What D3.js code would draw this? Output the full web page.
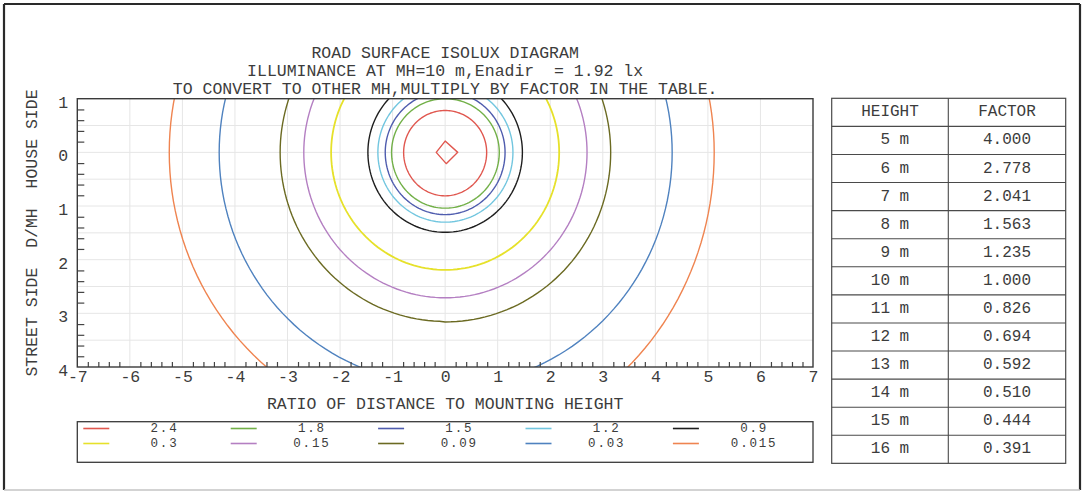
<!DOCTYPE html>
<html><head><meta charset="utf-8">
<script src="https://cdn.jsdelivr.net/npm/d3@7"></script>
<style>
html,body{margin:0;padding:0;background:#fff;}
svg text{font-family:"Liberation Mono","DejaVu Sans Mono",monospace;fill:#3c3c3c;}
</style></head><body>
<svg id="chart" width="1082" height="493"></svg>
<script>
// ---------- data ----------
const titleLines = [
  "ROAD SURFACE ISOLUX DIAGRAM",
  "ILLUMINANCE AT MH=10 m,Enadir  = 1.92 lx",
  "TO CONVERT TO OTHER MH,MULTIPLY BY FACTOR IN THE TABLE."
];
const xAxisTitle = "RATIO OF DISTANCE TO MOUNTING HEIGHT";
const yAxisTitle = "STREET SIDE  D/MH  HOUSE SIDE";
const xTickValues = [-7,-6,-5,-4,-3,-2,-1,0,1,2,3,4,5,6,7];
const yTickValues = [-1,0,1,2,3,4];
const yTickLabels = ["1","0","1","2","3","4"];

const levels      = ["2.4","1.8","1.5","1.2","0.9","0.3","0.15","0.09","0.03","0.015"];
const levelColors = ["#e0574f","#72b048","#4f5cae","#72c6df","#1e1e1e","#e6e12a","#b47fc2","#6b6a22","#4f82bf","#ef8450"];
// contour extents (in D/MH units)
const rLeft      = [0.79,1.02,1.14,1.28,1.47,2.17,2.69,3.14,4.30,5.25];
const rRight     = [0.79,1.03,1.14,1.29,1.47,2.17,2.70,3.15,4.32,5.12];
const rUp        = [0.78,1.00,1.13,1.27,1.46,2.15,2.67,3.12,4.28,5.25];
const rDownLeft  = [0.81,1.04,1.16,1.30,1.49,2.19,2.71,3.15,4.32,5.25];
const rDownRight = [0.81,1.04,1.16,1.30,1.49,2.19,2.71,3.16,4.36,5.45];
// inner closed 2.4 lx contour around the nadir
const innerRingX = [0.00, 0.24, 0.02,-0.17];
const innerRingY = [-0.21, 0.00, 0.21, 0.00];

const heights = ["5 m","6 m","7 m","8 m","9 m","10 m","11 m","12 m","13 m","14 m","15 m","16 m"];
const factors = ["4.000","2.778","2.041","1.563","1.235","1.000","0.826","0.694","0.592","0.510","0.444","0.391"];
const tableHeader = ["HEIGHT","FACTOR"];

// ---------- layout ----------
const svg = d3.select("#chart");
const P = {l:77.3, r:813, t:98.7, b:367};
const x = d3.scaleLinear().domain([-7,7]).range([P.l,P.r]);
const y = d3.scaleLinear().domain([-1,4]).range([P.t,P.b]);
const FS = 16.5;

// figure frame
svg.append("line").attr("x1",4).attr("x2",1080).attr("y1",4).attr("y2",4).attr("stroke","#2a2a2a").attr("stroke-width",2.2);
svg.append("line").attr("x1",4).attr("x2",4).attr("y1",4).attr("y2",490).attr("stroke","#2a2a2a").attr("stroke-width",2.2);
svg.append("line").attr("x1",1080).attr("x2",1080).attr("y1",4).attr("y2",490).attr("stroke","#2a2a2a").attr("stroke-width",2.2);
svg.append("line").attr("x1",4).attr("x2",1080).attr("y1",490).attr("y2",490).attr("stroke","#c4c4c4").attr("stroke-width",1.5);

// titles
svg.append("g").selectAll("text").data(titleLines).join("text")
  .attr("x",(P.l+P.r)/2).attr("y",(d,i)=>53+i*18.4)
  .attr("text-anchor","middle").attr("dominant-baseline","central")
  .style("white-space","pre").attr("font-size",FS).text(d=>d);

// grid
const grid = svg.append("g");
grid.selectAll(".gx").data(d3.range(-6,7,1)).join("line")
  .attr("x1",d=>x(d)).attr("x2",d=>x(d)).attr("y1",P.t).attr("y2",P.b)
  .attr("stroke","#e6e6e6").attr("stroke-width",1);
grid.selectAll(".gy").data(d3.range(-0.5,4,0.5)).join("line")
  .attr("y1",d=>y(d)).attr("y2",d=>y(d)).attr("x1",P.l).attr("x2",P.r)
  .attr("stroke","#e6e6e6").attr("stroke-width",1);

// contours
svg.append("defs").append("clipPath").attr("id","plotclip").append("rect")
  .attr("x",P.l).attr("y",P.t).attr("width",P.r-P.l).attr("height",P.b-P.t);
const thetas = d3.range(0,360,2).map(d=>d*Math.PI/180);
function ring(i){
  return thetas.map(t=>{
    const c=Math.cos(t), s=Math.sin(t);
    const rx = c>=0 ? rRight[i] : rLeft[i];
    const ry = s>=0 ? (c>=0 ? rDownRight[i] : rDownLeft[i]) : rUp[i];
    return [c*rx, s*ry];
  });
}
const line = d3.line().x(d=>x(d[0])).y(d=>y(d[1])).curve(d3.curveLinearClosed);
const cg = svg.append("g").attr("clip-path","url(#plotclip)");
cg.selectAll("path.iso").data(levels).join("path").attr("class","iso")
  .attr("d",(d,i)=>line(ring(i)))
  .attr("fill","none").attr("stroke",(d,i)=>levelColors[i])
  .attr("stroke-width",(d,i)=> d==="0.3" ? 1.8 : 1.4);
cg.append("path")
  .attr("d",line(innerRingX.map((v,i)=>[v,innerRingY[i]])))
  .attr("fill","none").attr("stroke",levelColors[0]).attr("stroke-width",1.4)
  .attr("stroke-linejoin","round");

// minor ticks (0.2 steps, integers omitted)
const isInt = v => Math.abs(v-Math.round(v))<1e-6;
const xMinor = d3.range(-7,7.0001,0.2).map(v=>+v.toFixed(2)).filter(v=>!isInt(v));
const yMinor = d3.range(-1,4.0001,0.2).map(v=>+v.toFixed(2)).filter(v=>!isInt(v));
const xm = svg.append("g").attr("transform",`translate(0,${P.b})`)
  .call(d3.axisBottom(x).tickValues(xMinor).tickSize(-5).tickFormat(""));
const ym = svg.append("g").attr("transform",`translate(${P.l},0)`)
  .call(d3.axisLeft(y).tickValues(yMinor).tickSize(-7).tickFormat(""));
[xm,ym].forEach(g=>{g.select(".domain").remove(); g.selectAll("line").attr("stroke","#444").attr("stroke-width",1.2);});

// tick labels
const xl = svg.append("g").attr("transform",`translate(0,${P.b})`)
  .call(d3.axisBottom(x).tickValues(xTickValues).tickSize(0).tickFormat(d=>String(d)));
xl.select(".domain").remove();
xl.selectAll("text").attr("dy",null).attr("y",10).attr("dominant-baseline","central")
  .attr("font-size",FS).attr("font-family",null).attr("fill",null);
const yl = svg.append("g").attr("transform",`translate(${P.l},0)`)
  .call(d3.axisLeft(y).tickValues(yTickValues).tickSize(0).tickFormat((d,i)=>yTickLabels[i]));
yl.select(".domain").remove();
yl.selectAll("text").attr("dy",null).attr("x",-14).attr("y",4).attr("text-anchor","middle")
  .attr("dominant-baseline","central").attr("font-size",FS).attr("font-family",null).attr("fill",null);
[xl,yl].forEach(g=>g.attr("font-family",null).attr("font-size",null));

// plot frame
svg.append("rect").attr("x",P.l).attr("y",P.t).attr("width",P.r-P.l).attr("height",P.b-P.t)
  .attr("fill","none").attr("stroke","#3a3a3a").attr("stroke-width",1.4);

// axis titles
svg.append("text").attr("x",(P.l+P.r)/2).attr("y",404).attr("text-anchor","middle")
  .attr("dominant-baseline","central").attr("font-size",FS).text(xAxisTitle);
svg.append("text").attr("transform","translate(32.5,233) rotate(-90)")
  .attr("text-anchor","middle").attr("dominant-baseline","central")
  .style("white-space","pre").attr("font-size",FS).text(yAxisTitle);

// legend
const L = {l:77.3, r:813, t:421.7, b:462.3};
svg.append("rect").attr("x",L.l).attr("y",L.t).attr("width",L.r-L.l).attr("height",L.b-L.t)
  .attr("fill","none").attr("stroke","#3a3a3a").attr("stroke-width",1.3);
const colX = d3.scaleLinear().domain([0,1]).range([83.3,230.7]);
const rowY = d3.scaleLinear().domain([0,1]).range([428.5,443.5]);
const lg = svg.append("g").selectAll("g").data(levels).join("g")
  .attr("transform",(d,i)=>`translate(${colX(i%5)},${rowY(Math.floor(i/5))})`);
lg.append("line").attr("x1",0).attr("x2",26).attr("y1",0).attr("y2",0)
  .attr("stroke",(d,i)=>levelColors[i]).attr("stroke-width",1.6);
lg.append("text").attr("x",81.2).attr("y",0).attr("text-anchor","middle")
  .attr("dominant-baseline","central").attr("font-size",12.5)
  .attr("letter-spacing",1.8).text(d=>d);

// table
const T = {l:831.7, m:948.3, r:1065.7, t:98.3, rows:13, h:28.08};
const rowTop = d3.scaleLinear().domain([0,T.rows]).range([T.t, T.t+T.rows*T.h]);
const tg = svg.append("g");
tg.append("rect").attr("x",T.l).attr("y",T.t).attr("width",T.r-T.l).attr("height",T.rows*T.h)
  .attr("fill","none").attr("stroke","#4a4a4a").attr("stroke-width",1.2);
tg.selectAll(".hl").data(d3.range(1,T.rows)).join("line")
  .attr("x1",T.l).attr("x2",T.r).attr("y1",d=>rowTop(d)).attr("y2",d=>rowTop(d))
  .attr("stroke","#4a4a4a").attr("stroke-width",1.1);
tg.append("line").attr("x1",T.m).attr("x2",T.m).attr("y1",T.t).attr("y2",T.t+T.rows*T.h)
  .attr("stroke","#4a4a4a").attr("stroke-width",1.1);
const rowsData = [tableHeader].concat(heights.map((h,i)=>[h.padStart(4," "),factors[i]]));
const rowsG = tg.selectAll(".row").data(rowsData).join("g")
  .attr("transform",(d,i)=>`translate(0,${rowTop(i)+T.h/2})`);
rowsG.append("text").attr("x",(T.l+T.m)/2).attr("text-anchor","middle").attr("dominant-baseline","central")
  .style("white-space","pre").attr("font-size",16).text(d=>d[0]);
rowsG.append("text").attr("x",(T.m+T.r)/2).attr("text-anchor","middle").attr("dominant-baseline","central")
  .attr("font-size",16).text(d=>d[1]);
</script>
</body></html>
